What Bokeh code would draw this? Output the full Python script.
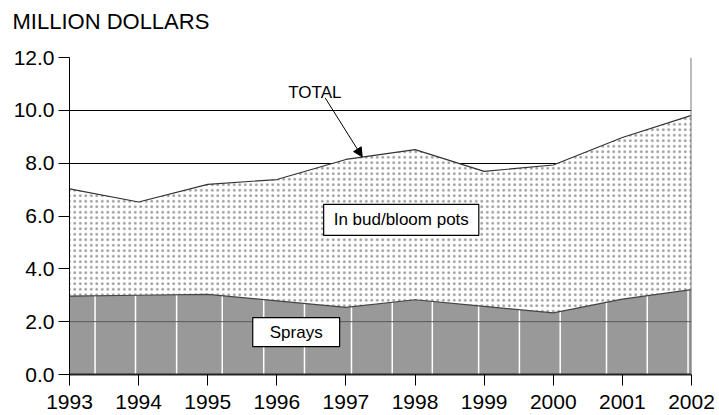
from bokeh.plotting import figure
from bokeh.models import (FixedTicker, PrintfTickFormatter, Label, Arrow, NormalHead,
                          Span, Range1d, Title)
from bokeh.embed import file_html
from bokeh.resources import INLINE
import numpy as np

# ---- data ----
years = [1993, 1994, 1995, 1996, 1997, 1998, 1999, 2000, 2001, 2002]
total = [7.03, 6.53, 7.20, 7.38, 8.14, 8.51, 7.69, 7.93, 8.97, 9.81]
sprays = [2.97, 3.00, 3.03, 2.79, 2.54, 2.83, 2.58, 2.33, 2.85, 3.21]
y_ticks = [0, 2, 4, 6, 8, 10, 12]
x_ticks = years
# white seams of the original's gray texture
seam_x = [1993.37, 1993.955, 1994.55, 1995.21, 1995.81, 1996.40, 1997.08, 1997.67,
          1998.25, 1998.92, 1999.51, 2000.10, 2000.77, 2001.36, 2001.95]

FONT = "Liberation Sans"

p = figure(width=719, height=415, output_backend="svg", toolbar_location=None,
           x_range=Range1d(1993, 2002), y_range=Range1d(0, 12),
           min_border_left=69, min_border_right=28, min_border_top=57,
           min_border_bottom=41)
p.outline_line_color = None
p.background_fill_color = "white"
p.border_fill_color = "white"

# spacer (closest to frame) then the real title above it
p.add_layout(Title(text=" ", text_font=FONT, text_font_size="19px", standoff=1), "above")
p.add_layout(Title(text="MILLION DOLLARS", text_font=FONT, text_font_size="22px",
                   text_font_style="normal", text_color="black", align="left",
                   offset=-57, standoff=0), "above")

# grid
p.xgrid.grid_line_color = None
p.ygrid.ticker = FixedTicker(ticks=y_ticks)
p.ygrid.grid_line_color = "black"
p.ygrid.grid_line_width = 1

# areas
p.varea(x=years, y1=sprays, y2=total, fill_color="white",
        hatch_pattern="dot", hatch_color="#9a9a9a", hatch_scale=5.5, hatch_weight=0.8)
p.varea(x=years, y1=[0] * len(years), y2=sprays, fill_color="#999999")

# seams
seam_top = np.interp(seam_x, years, sprays)
p.segment(x0=seam_x, y0=[0] * len(seam_x), x1=seam_x, y1=seam_top,
          line_color="white", line_width=1.5)

# gridline at 2.0 visible in gray
p.line(x=[years[0], years[-1]], y=[2, 2], line_color="#5a5a5a", line_width=1)

# boundary lines
p.line(x=years, y=total, line_color="#333333", line_width=1.2)
p.line(x=years, y=sprays, line_color="#444444", line_width=1.2)

# right edge
p.add_layout(Span(location=2002, dimension="height", line_color="#7a7a7a", line_width=2))

# axes
p.xaxis.ticker = FixedTicker(ticks=x_ticks)
p.yaxis.ticker = FixedTicker(ticks=y_ticks)
p.yaxis.formatter = PrintfTickFormatter(format="%.1f")
for ax in (p.xaxis[0], p.yaxis[0]):
    ax.major_label_text_font = FONT
    ax.major_label_text_font_size = "21px"
    ax.major_label_text_color = "black"
    ax.major_tick_out = 11
    ax.major_tick_in = 0
    ax.minor_tick_out = 0
    ax.minor_tick_in = 0
    ax.major_tick_line_color = "black"
    ax.major_tick_line_width = 1
p.yaxis.axis_line_color = "black"
p.yaxis.axis_line_width = 1
p.yaxis.major_label_standoff = 4
p.xaxis.axis_line_color = "#222222"
p.xaxis.axis_line_width = 2
p.xaxis.major_label_standoff = 9

# TOTAL annotation
p.add_layout(Label(x=1996.55, y=10.69, text="TOTAL", text_font=FONT,
                   text_font_size="17px", text_align="center",
                   text_baseline="alphabetic", text_color="black"))
p.add_layout(Arrow(x_start=1996.70, y_start=10.47, x_end=1997.235, y_end=8.24,
                   line_color="black", line_width=1,
                   end=NormalHead(size=9, fill_color="black", line_color="black")))

# boxed labels (padding: left, right, top, bottom)
p.add_layout(Label(x=1997.80, y=5.85, text="In bud/bloom pots", text_font=FONT,
                   text_font_size="17px", text_align="center", text_baseline="middle",
                   text_color="black", background_fill_color="white",
                   border_line_color="black", border_line_width=1.2,
                   padding=(10, 10, 6, 6)))
p.add_layout(Label(x=1996.28, y=1.605, text="Sprays", text_font=FONT,
                   text_font_size="17px", text_align="center", text_baseline="middle",
                   text_color="black", background_fill_color="white",
                   border_line_color="black", border_line_width=1.2,
                   padding=(17, 17, 5, 5)))

open("out.html", "w").write(file_html(p, INLINE))
